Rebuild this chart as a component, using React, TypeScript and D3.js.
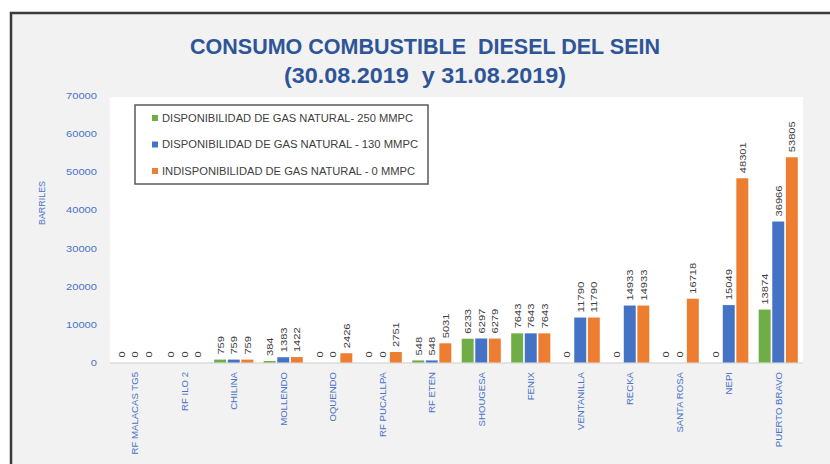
import React from "react";
import * as d3 from "d3";

const categories = [
  "RF MALACAS TG5", "RF ILO 2", "CHILINA", "MOLLENDO", "OQUENDO", "RF PUCALLPA", "RF ETEN",
  "SHOUGESA", "FENIX", "VENTANILLA", "RECKA", "SANTA ROSA", "NEPI", "PUERTO BRAVO",
];
const seriesNames = [
  "DISPONIBILIDAD DE GAS NATURAL- 250 MMPC",
  "DISPONIBILIDAD DE GAS NATURAL - 130 MMPC",
  "INDISPONIBILIDAD DE GAS NATURAL - 0 MMPC",
];
const gas250 = [0, 0, 759, 384, 0, 0, 548, 6233, 7643, 0, 0, 0, 0, 13874];
const gas130 = [0, 0, 759, 1383, 0, 0, 548, 6297, 7643, 11790, 14933, 0, 15049, 36966];
const gas0 = [0, 0, 759, 1422, 2426, 2751, 5031, 6279, 7643, 11790, 14933, 16718, 48301, 53805];
const yTicks = [0, 10000, 20000, 30000, 40000, 50000, 60000, 70000];
const colors = ["#70ad47", "#4472c4", "#ed7d31"];

const W = 830, H = 464;
const plot = { left: 110, right: 803, top: 97, bottom: 362.5 };

export default function App() {
  const series = [gas250, gas130, gas0];
  const x = d3.scaleBand<string>().domain(categories).range([plot.left, plot.right]).paddingInner(0.21).paddingOuter(0.105);
  const xs = d3.scaleBand<number>().domain([0, 1, 2]).range([0, x.bandwidth()]).paddingInner(0.12);
  const y = d3.scaleLinear().domain([0, 70000]).range([plot.bottom, 95.5]);
  const font = "'Liberation Sans', Arial, sans-serif";
  const legendLens = [251, 256, 253];

  return (
    <svg width={W} height={H} style={{ position: "absolute", left: 0, top: 0 }} fontFamily={font}>
      <rect x={0} y={0} width={W} height={H} fill="#ffffff" />
      <rect x={11} y={13} width={W + 20} height={H + 20} fill="#f2f2f2" stroke="#3a3a3a" strokeWidth={2.5} />
      <text x={425} y={54} textAnchor="middle" fontSize={22} fontWeight="bold" fill="#2e5597"
        style={{ whiteSpace: "pre" }}
        textLength={470} lengthAdjust="spacingAndGlyphs">CONSUMO COMBUSTIBLE  DIESEL DEL SEIN</text>
      <text x={425} y={83} textAnchor="middle" fontSize={22} fontWeight="bold" fill="#2e5597"
        style={{ whiteSpace: "pre" }}
        textLength={282} lengthAdjust="spacingAndGlyphs">(30.08.2019  y 31.08.2019)</text>

      <rect x={plot.left} y={plot.top} width={plot.right - plot.left} height={plot.bottom - plot.top} fill="#ffffff" />
      <line x1={plot.left} x2={plot.right} y1={plot.bottom + 0.5} y2={plot.bottom + 0.5} stroke="#d0d0d0" strokeWidth={1} />

      {yTicks.map((t) => (
        <text key={t} x={97} y={y(t) + 3.5} textAnchor="end" fontSize={9.5} fill="#4a72c8"
          textLength={String(t).length * 6.2} lengthAdjust="spacingAndGlyphs">{t}</text>
      ))}
      <text transform={`translate(45,203) rotate(-90)`} textAnchor="middle" fontSize={8.5} fill="#4a72c8"
        textLength={44} lengthAdjust="spacingAndGlyphs">BARRILES</text>

      {categories.map((c, i) => (
        <g key={c}>
          {series.map((s, k) => {
            const bx = (x(c) as number) + (xs(k) as number);
            const bw = xs.bandwidth();
            const v = s[i];
            const top = y(v);
            return (
              <g key={k}>
                {v > 0 && <rect x={bx} y={top} width={bw} height={plot.bottom - top} fill={colors[k]} />}
                <text transform={`translate(${bx + bw / 2 + 3.5},${top - 5}) rotate(-90)`} fontSize={9.5} fill="#404040"
                  textLength={String(v).length * 6.2} lengthAdjust="spacingAndGlyphs">{v}</text>
              </g>
            );
          })}
          <text transform={`translate(${(x(c) as number) + x.bandwidth() / 2 + 3.5},372) rotate(-90)`}
            textAnchor="end" fontSize={9.6} fill="#4a72c8">{c}</text>
        </g>
      ))}

      <rect x={135} y={105} width={293} height={79} fill="#ffffff" stroke="#5a5a5a" strokeWidth={1.5} />
      {seriesNames.map((n, k) => (
        <g key={n}>
          <rect x={152} y={115 + k * 26.5} width={6} height={6} fill={colors[k]} />
          <text x={162} y={121.5 + k * 26.5} fontSize={10} fill="#404040"
            textLength={legendLens[k]} lengthAdjust="spacingAndGlyphs">{n}</text>
        </g>
      ))}
    </svg>
  );
}
